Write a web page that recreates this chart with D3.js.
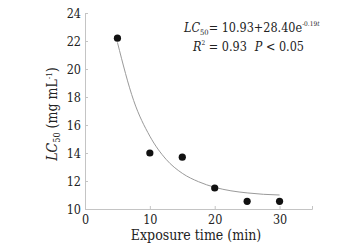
<!DOCTYPE html>
<html><head><meta charset="utf-8">
<script src="https://cdn.jsdelivr.net/npm/d3@7/dist/d3.min.js"></script>
<style>body{margin:0;background:#fff;} svg text{font-family:"DejaVu Serif Condensed","DejaVu Serif",serif; font-stretch:condensed;}</style>
</head><body>
<svg id="c" width="353" height="247"></svg>
<script>
// Measured points
const times = [5, 10, 15, 20, 25, 30];
const lc50 = [22.2, 14.0, 13.7, 11.5, 10.55, 10.55];
// Fitted curve
const fitTimes = [5, 7.5, 10, 12.5, 15, 17.5, 20, 22.5, 25, 27.5, 30];
const fitValues = [21.9, 17.75, 15.2, 13.55, 12.55, 11.95, 11.55, 11.3, 11.15, 11.05, 11.0];
const xTicks = [0, 10, 20, 30];
const yTicks = [10, 12, 14, 16, 18, 20, 22, 24];

const svg = d3.select("#c");
const x = d3.scaleLinear().domain([0, 35]).range([85, 312]);
const y = d3.scaleLinear().domain([10, 24]).range([209, 13]);
const axisColor = "#c4c4c4";

const gx = svg.append("g").attr("transform", `translate(0,${y(10)})`)
  .call(d3.axisBottom(x).tickValues(xTicks).tickSize(-3).tickPadding(5).tickFormat(d3.format("d")));
const gy = svg.append("g").attr("transform", `translate(${x(0)},0)`)
  .call(d3.axisLeft(y).tickValues(yTicks).tickSize(-3).tickPadding(4).tickFormat(d3.format("d")));
[gx, gy].forEach(g => {
  g.attr("font-family", null);
  g.select(".domain").attr("stroke", axisColor).attr("stroke-width", 1);
  g.selectAll(".tick line").attr("stroke", axisColor);
  g.selectAll(".tick text").attr("fill", "#222").style("font-size", "12.5px");
});
gx.selectAll(".tick text").attr("dy", "0.8em");
gy.selectAll(".tick text").attr("dy", "0.33em");

// Fitted curve
const line = d3.line().x((d, i) => x(fitTimes[i])).y(d => y(d)).curve(d3.curveMonotoneX);
svg.append("path").datum(fitValues).attr("d", line)
  .attr("fill", "none").attr("stroke", "#9a9a9a").attr("stroke-width", 1);

// Points
svg.selectAll("circle.pt").data(lc50).join("circle").attr("class", "pt")
  .attr("cx", (d, i) => x(times[i])).attr("cy", d => y(d)).attr("r", 3.6).attr("fill", "#111");

// X axis title
svg.append("text").attr("x", 196).attr("y", 240).attr("text-anchor", "middle")
  .style("font-size", "14px").attr("fill", "#222").text("Exposure time (min)");

// Y axis title
const yt = svg.append("text").attr("transform", `translate(57,114) rotate(-90)`)
  .attr("text-anchor", "middle").style("font-size", "14px").attr("fill", "#222");
yt.append("tspan").style("font-style", "italic").text("LC");
yt.append("tspan").attr("dy", 3).style("font-size", "9px").text("50");
yt.append("tspan").attr("dy", -3).text(" (mg mL");
yt.append("tspan").attr("dy", -5).style("font-size", "8px").text("-1");
yt.append("tspan").attr("dy", 5).text(")");

// Annotation
const a1 = svg.append("text").attr("x", 184).attr("y", 32).style("font-size", "12.5px").attr("fill", "#222");
a1.append("tspan").style("font-style", "italic").text("LC");
a1.append("tspan").attr("dy", 3).style("font-size", "7.5px").text("50");
a1.append("tspan").attr("dy", -3).text("= 10.93+28.40e");
a1.append("tspan").attr("dy", -6).style("font-size", "6.5px").text("-0.19");
a1.append("tspan").style("font-size", "6.5px").style("font-style", "italic").text("t");

const a2 = svg.append("text").attr("x", 193).attr("y", 51).style("font-size", "12.5px").attr("fill", "#222");
a2.append("tspan").style("font-style", "italic").text("R");
a2.append("tspan").attr("dy", -6).style("font-size", "6.5px").text("2");
a2.append("tspan").attr("dy", 6).text(" = 0.93");
a2.append("tspan").attr("dx", 8).style("font-style", "italic").text("P");
a2.append("tspan").text(" < 0.05");
</script>
</body></html>
